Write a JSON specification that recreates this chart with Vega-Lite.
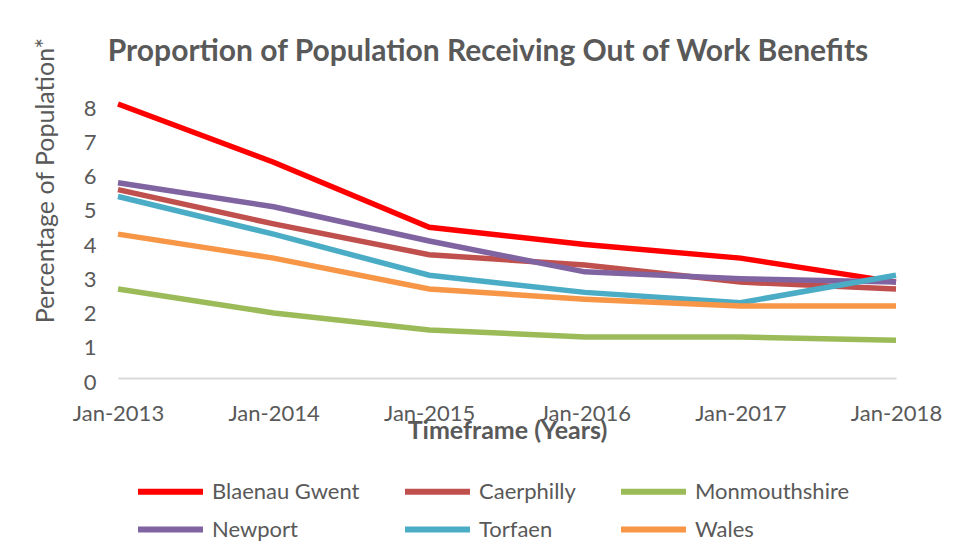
{
  "$schema": "https://vega.github.io/schema/vega-lite/v6.json",
  "width": 778,
  "height": 274,
  "autosize": {"type": "none"},
  "padding": {"left": 118, "top": 104, "right": 58, "bottom": 180},
  "background": "white",
  "title": {
    "text": "Proportion of Population Receiving Out of Work Benefits",
    "frame": "group",
    "anchor": "middle",
    "dx": -19,
    "dy": 72,
    "offset": 42,
    "font": "Lato",
    "fontSize": 30,
    "fontWeight": "bold",
    "color": "#595959"
  },
  "data": {
    "values": [
      {"date": "Jan-2013", "area": "Blaenau Gwent", "value": 8.0},
      {"date": "Jan-2014", "area": "Blaenau Gwent", "value": 6.3},
      {"date": "Jan-2015", "area": "Blaenau Gwent", "value": 4.4},
      {"date": "Jan-2016", "area": "Blaenau Gwent", "value": 3.9},
      {"date": "Jan-2017", "area": "Blaenau Gwent", "value": 3.5},
      {"date": "Jan-2018", "area": "Blaenau Gwent", "value": 2.8},
      {"date": "Jan-2013", "area": "Caerphilly", "value": 5.5},
      {"date": "Jan-2014", "area": "Caerphilly", "value": 4.5},
      {"date": "Jan-2015", "area": "Caerphilly", "value": 3.6},
      {"date": "Jan-2016", "area": "Caerphilly", "value": 3.3},
      {"date": "Jan-2017", "area": "Caerphilly", "value": 2.8},
      {"date": "Jan-2018", "area": "Caerphilly", "value": 2.6},
      {"date": "Jan-2013", "area": "Monmouthshire", "value": 2.6},
      {"date": "Jan-2014", "area": "Monmouthshire", "value": 1.9},
      {"date": "Jan-2015", "area": "Monmouthshire", "value": 1.4},
      {"date": "Jan-2016", "area": "Monmouthshire", "value": 1.2},
      {"date": "Jan-2017", "area": "Monmouthshire", "value": 1.2},
      {"date": "Jan-2018", "area": "Monmouthshire", "value": 1.1},
      {"date": "Jan-2013", "area": "Newport", "value": 5.7},
      {"date": "Jan-2014", "area": "Newport", "value": 5.0},
      {"date": "Jan-2015", "area": "Newport", "value": 4.0},
      {"date": "Jan-2016", "area": "Newport", "value": 3.1},
      {"date": "Jan-2017", "area": "Newport", "value": 2.9},
      {"date": "Jan-2018", "area": "Newport", "value": 2.8},
      {"date": "Jan-2013", "area": "Torfaen", "value": 5.3},
      {"date": "Jan-2014", "area": "Torfaen", "value": 4.2},
      {"date": "Jan-2015", "area": "Torfaen", "value": 3.0},
      {"date": "Jan-2016", "area": "Torfaen", "value": 2.5},
      {"date": "Jan-2017", "area": "Torfaen", "value": 2.2},
      {"date": "Jan-2018", "area": "Torfaen", "value": 3.0},
      {"date": "Jan-2013", "area": "Wales", "value": 4.2},
      {"date": "Jan-2014", "area": "Wales", "value": 3.5},
      {"date": "Jan-2015", "area": "Wales", "value": 2.6},
      {"date": "Jan-2016", "area": "Wales", "value": 2.3},
      {"date": "Jan-2017", "area": "Wales", "value": 2.1},
      {"date": "Jan-2018", "area": "Wales", "value": 2.1}
    ]
  },
  "mark": {"type": "line", "strokeWidth": 5.5, "strokeCap": "butt", "strokeJoin": "miter"},
  "encoding": {
    "x": {
      "field": "date",
      "type": "ordinal",
      "sort": null,
      "scale": {"type": "point", "padding": 0},
      "axis": {
        "title": "Timeframe (Years)",
        "titleFont": "Lato",
        "titleFontSize": 25,
        "titleFontWeight": "bold",
        "titleColor": "#595959",
        "titleY": 52,
        "titleBaseline": "middle",
        "labelAngle": 0,
        "labelFont": "Lato",
        "labelFontSize": 22,
        "labelColor": "#595959",
        "labelPadding": 25,
        "ticks": false,
        "domain": true,
        "domainColor": "#D9D9D9",
        "domainWidth": 2,
        "grid": false
      }
    },
    "y": {
      "field": "value",
      "type": "quantitative",
      "scale": {"domain": [0, 8], "nice": false, "zero": true},
      "axis": {
        "title": "Percentage of Population*",
        "titleFont": "Lato",
        "titleFontSize": 25,
        "titleFontWeight": "normal",
        "titleColor": "#595959",
        "titleAngle": -90,
        "titleX": -73,
        "titleY": 76,
        "titleAlign": "center",
        "titleBaseline": "middle",
        "values": [0, 1, 2, 3, 4, 5, 6, 7, 8],
        "labelFont": "Lato",
        "labelFontSize": 22,
        "labelColor": "#595959",
        "labelPadding": 22,
        "labelOffset": 4,
        "ticks": false,
        "domain": false,
        "grid": false
      }
    },
    "color": {
      "field": "area",
      "type": "nominal",
      "scale": {
        "domain": ["Blaenau Gwent", "Caerphilly", "Monmouthshire", "Newport", "Torfaen", "Wales"],
        "range": ["#FF0000", "#C0504D", "#9BBB59", "#8064A2", "#4BACC6", "#F79646"]
      },
      "legend": {
        "title": null,
        "orient": "none",
        "legendX": 33,
        "legendY": 368,
        "direction": "horizontal",
        "columns": 3,
        "columnPadding": 33,
        "rowPadding": 6,
        "padding": 0,
        "symbolType": "M-2,0H2",
        "symbolSize": 1056,
        "symbolStrokeWidth": 6,
        "labelOffset": 22,
        "labelFont": "Lato",
        "labelFontSize": 22,
        "labelColor": "#595959"
      }
    }
  },
  "config": {"view": {"stroke": null}}
}
